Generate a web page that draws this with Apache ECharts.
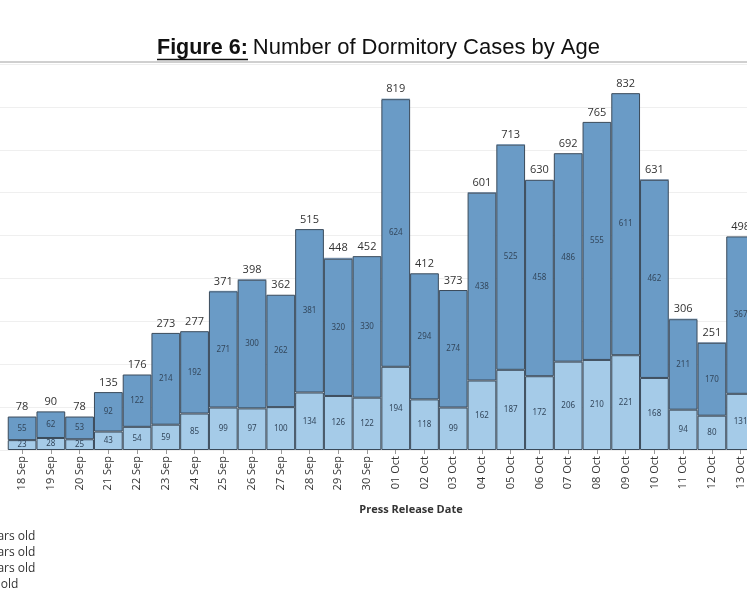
<!DOCTYPE html>
<html>
<head>
<meta charset="utf-8">
<script src="https://cdn.jsdelivr.net/npm/echarts@6/dist/echarts.min.js"></script>
<style>
html,body{margin:0;padding:0;background:#fff;overflow:hidden;width:747px;height:598px;position:relative;}
#c{position:absolute;left:-21px;top:0;width:776px;height:598px;}
</style>
</head>
<body>
<div id="c"></div>
<script>
var categories = ['17 Sep','18 Sep','19 Sep','20 Sep','21 Sep','22 Sep','23 Sep','24 Sep','25 Sep','26 Sep','27 Sep','28 Sep','29 Sep','30 Sep',
  '01 Oct','02 Oct','03 Oct','04 Oct','05 Oct','06 Oct','07 Oct','08 Oct','09 Oct','10 Oct','11 Oct','12 Oct','13 Oct'];
var seriesNames = ['20 - 29 years old','30 - 39 years old','40 - 49 years old','50+ years old'];
var lightValues = [null,23,28,25,43,54,59,85,99,97,100,134,126,122,194,118,99,162,187,172,206,210,221,168,94,80,131];
var darkValues  = [null,55,62,53,92,122,214,192,271,300,262,381,320,330,624,294,274,438,525,458,486,555,611,462,211,170,367];
var smallValuesA = [null,0,0,0,0,0,0,0,1,0,0,0,1,0,1,0,0,0,1,0,0,0,0,0,1,0,0];
var smallValuesB = [null,0,0,0,0,0,0,0,0,1,0,0,1,0,0,0,0,1,0,0,0,0,0,1,0,1,0];
var yTicks = {min:0, max:900, interval:100};

var totals = categories.map(function(_, i){
  if (lightValues[i] == null) return null;
  return lightValues[i] + darkValues[i] + smallValuesA[i] + smallValuesB[i];
});

var OFF = 21; // container is shifted left by this many pixels
var chart = echarts.init(document.getElementById('c'), null, {renderer:'canvas'});
var border = '#3a4a5a';
var innerLabel = {show:true, position:'inside', fontSize:8, color:'#33475c', fontFamily:'Noto Sans'};
chart.setOption({
  animation:false,
  backgroundColor:'#fff',
  title:[{
    text:'{b|Figure 6:} {n|Number of Dormitory Cases by Age}',
    left:152 + OFF, top:32,
    textStyle:{fontWeight:'normal', rich:{
      b:{fontFamily:'Liberation Sans', fontSize:21.5, fontWeight:'bold', color:'#111'},
      n:{fontFamily:'Liberation Sans', fontSize:22, fontWeight:'normal', color:'#111'}
    }}
  },{
    text:'Press Release Date',
    left:406 + OFF, top:499, textAlign:'center',
    textStyle:{fontFamily:'Open Sans', fontSize:11, fontWeight:'bold', color:'#333'}
  }],
  graphic:[
    {type:'line', shape:{x1:0,y1:62,x2:776,y2:62}, style:{stroke:'#a0a0a0', lineWidth:1}, silent:true},
    {type:'line', shape:{x1:157+OFF,y1:59.5,x2:248+OFF,y2:59.5}, style:{stroke:'#111', lineWidth:1.4}, silent:true}
  ],
  legend:{
    orient:'vertical', left:-72 + OFF, top:531, height:80, padding:0,
    itemWidth:10, itemHeight:10, itemGap:4,
    icon:'rect',
    textStyle:{fontFamily:'Open Sans', fontSize:12, lineHeight:12, color:'#333'},
    data:seriesNames
  },
  grid:{left:0, right:0, top:64, bottom:148, containLabel:false},
  xAxis:{
    type:'category', data:categories,
    axisLine:{show:false},
    axisTick:{show:true, alignWithLabel:true, length:4, lineStyle:{color:'#999'}},
    axisLabel:{rotate:90, fontSize:11, color:'#333', fontFamily:'Open Sans', margin:6, interval:0, padding:[5,0,0,0]}
  },
  yAxis:{
    type:'value', min:yTicks.min, max:yTicks.max, interval:yTicks.interval,
    axisLabel:{show:false}, axisLine:{show:false}, axisTick:{show:false},
    splitLine:{lineStyle:{color:'#efefef', width:1}}
  },
  series:[
    {name:seriesNames[0], type:'bar', stack:'a', data:lightValues, barCategoryGap:'0%',
      itemStyle:{color:'#a5cbe8', borderColor:border, borderWidth:1}, label:innerLabel},
    {name:seriesNames[1], type:'bar', stack:'a', data:darkValues, barCategoryGap:'0%',
      itemStyle:{color:'#6a9bc6', borderColor:border, borderWidth:1}, label:innerLabel},
    {name:seriesNames[2], type:'bar', stack:'a', data:smallValuesA, barCategoryGap:'0%',
      itemStyle:{color:'#3f6f9c', borderColor:border, borderWidth:0}},
    {name:seriesNames[3], type:'bar', stack:'a', data:smallValuesB, barCategoryGap:'0%',
      itemStyle:{color:'#2a4f75', borderColor:border, borderWidth:0},
      label:{show:true, position:'top', distance:4, fontSize:11, color:'#333', fontFamily:'Open Sans',
        formatter:function(p){ var t = totals[p.dataIndex]; return t == null ? '' : String(t); }}}
  ]
});
</script>
</body>
</html>
